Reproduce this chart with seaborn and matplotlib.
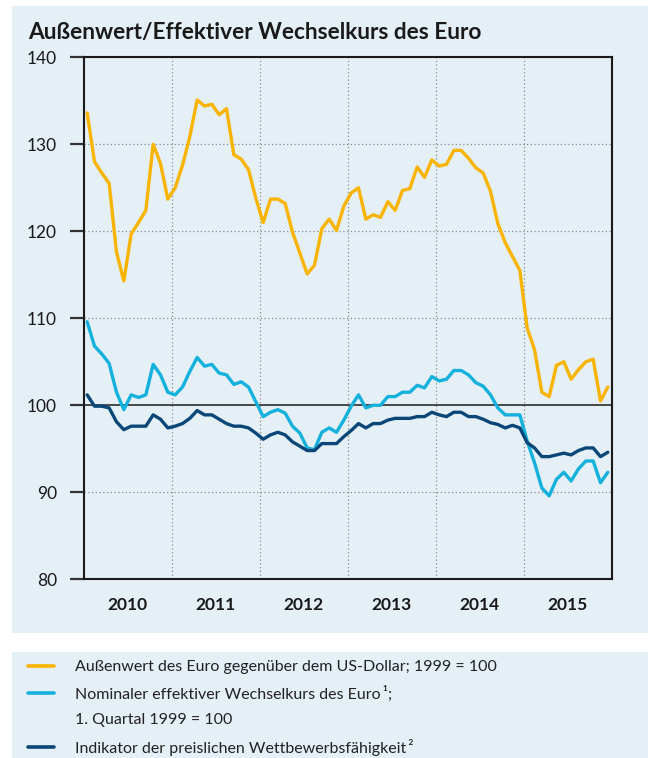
import matplotlib
matplotlib.use("Agg")
import numpy as np
import pandas as pd
import seaborn as sns
import matplotlib.pyplot as plt
from matplotlib.patches import Rectangle
from matplotlib.lines import Line2D

# ---------------- data (monthly, Jan 2010 - Dec 2015) ----------------
years = [2010, 2011, 2012, 2013, 2014, 2015]

usd = [133.6, 128.0, 126.7, 125.5, 117.6, 114.3, 119.7, 121.0, 122.4, 130.0, 127.8, 123.7,
       125.0, 127.6, 130.9, 135.1, 134.4, 134.6, 133.4, 134.1, 128.8, 128.3, 127.1, 123.8,
       121.0, 123.7, 123.7, 123.2, 119.9, 117.5, 115.1, 116.1, 120.3, 121.4, 120.1, 122.9,
       124.4, 125.0, 121.4, 121.9, 121.6, 123.4, 122.4, 124.7, 124.9, 127.4, 126.2, 128.2,
       127.5, 127.7, 129.3, 129.3, 128.4, 127.3, 126.7, 124.6, 120.9, 118.7, 117.1, 115.5,
       108.9, 106.4, 101.5, 101.0, 104.6, 105.0, 103.0, 104.1, 105.0, 105.3, 100.5, 102.1]

nominal = [109.6, 106.8, 105.9, 104.8, 101.5, 99.5, 101.2, 100.9, 101.2, 104.7, 103.5, 101.5,
           101.2, 102.1, 103.9, 105.5, 104.5, 104.7, 103.7, 103.5, 102.4, 102.7, 102.1, 100.4,
           98.7, 99.2, 99.5, 99.1, 97.6, 96.8, 95.1, 94.9, 96.9, 97.4, 96.9, 98.3,
           99.9, 101.2, 99.7, 100.0, 100.0, 101.0, 101.0, 101.5, 101.5, 102.3, 102.0, 103.3,
           102.8, 103.0, 104.0, 104.0, 103.5, 102.6, 102.2, 101.2, 99.7, 98.9, 98.9, 98.9,
           95.9, 93.4, 90.5, 89.6, 91.5, 92.3, 91.3, 92.7, 93.6, 93.6, 91.1, 92.3]

competitiveness = [101.2, 99.9, 99.9, 99.7, 98.1, 97.2, 97.6, 97.6, 97.6, 98.9, 98.4, 97.4,
                   97.6, 97.9, 98.5, 99.4, 98.9, 98.9, 98.4, 97.9, 97.6, 97.6, 97.4, 96.8,
                   96.1, 96.6, 96.9, 96.6, 95.8, 95.3, 94.8, 94.8, 95.6, 95.6, 95.6, 96.4,
                   97.1, 97.9, 97.4, 97.9, 97.9, 98.3, 98.5, 98.5, 98.5, 98.7, 98.7, 99.2,
                   98.9, 98.7, 99.2, 99.2, 98.7, 98.7, 98.4, 98.0, 97.8, 97.4, 97.7, 97.4,
                   95.7, 95.1, 94.1, 94.1, 94.3, 94.5, 94.3, 94.8, 95.1, 95.1, 94.1, 94.6]

series_names = ["Außenwert des Euro gegenüber dem US-Dollar; 1999 = 100",
                "Nominaler effektiver Wechselkurs des Euro\u2009\u00b9;",
                "Indikator der preislichen Wettbewerbsfähigkeit\u2009\u00b2"]
colors = ["#F8B400", "#14B1DC", "#0A4677"]
title = "Außenwert/Effektiver Wechselkurs des Euro"

# decimal-year position of each monthly observation (mid-month)
dates = pd.date_range("2010-01-01", periods=len(usd), freq="MS")
xpos = dates.year + (dates.month - 0.5) / 12.0

df = pd.DataFrame({
    "x": np.tile(xpos, 3),
    "value": usd + nominal + competitiveness,
    "series": np.repeat(series_names, len(usd)),
})

# ---------------- figure ----------------
sns.set_theme(style="white")
plt.rcParams["font.family"] = ["Lato", "DejaVu Sans"]

W, H = 648, 758
bg = "#E4EFF6"
fig = plt.figure(figsize=(W / 100, H / 100), dpi=100, facecolor="white")

# background panels
fig.patches.append(Rectangle((12 / W, 1 - 633 / H), (W - 12) / W, (633 - 6) / H,
                             transform=fig.transFigure, facecolor=bg, edgecolor="none", zorder=-10))
fig.patches.append(Rectangle((12 / W, 0), (W - 12) / W, (H - 652) / H,
                             transform=fig.transFigure, facecolor=bg, edgecolor="none", zorder=-10))

fig.text(28 / W, 1 - 33 / H, title, fontsize=16.3, fontweight="bold", color="#1a1a1a",
         ha="left", va="center")

ax = fig.add_axes([83.5 / W, 1 - 579.3 / H, 528 / W, 522 / H])
ax.set_facecolor(bg)

# grid
for yv in [90, 110, 120, 130]:
    ax.axhline(yv, color="#8a8a8a", lw=0.9, ls=(0, (1, 2.0)), zorder=1)
for xv in years[1:]:
    ax.axvline(xv, color="#8a8a8a", lw=0.9, ls=(0, (1, 2.0)), zorder=1)
ax.axhline(100, color="#1a1a1a", lw=1.1, zorder=2)

sns.lineplot(data=df, x="x", y="value", hue="series", hue_order=series_names,
             palette=colors, linewidth=2.4, legend=False, ax=ax, zorder=3)

ax.set_xlim(2010, 2016)
ax.set_ylim(80, 140)
ax.set_yticks(range(80, 141, 10))
ax.set_xticks(years[1:])
ax.set_xticklabels([])
ax.set_xticks([y + 0.5 for y in years], minor=True)
ax.set_xticklabels([str(y) for y in years], minor=True, fontweight="bold", fontsize=12.5,
                   color="#1a1a1a")
ax.tick_params(axis="x", which="both", length=0, pad=13)
ax.tick_params(axis="y", length=10, width=1.6, color="#333333", labelsize=12.5,
               labelcolor="#1a1a1a", pad=9, left=True)
ax.set_xlabel("")
ax.set_ylabel("")
for s in ax.spines.values():
    s.set_visible(True)
    s.set_color("#1a1a1a")
    s.set_linewidth(1.5)

# legend
handles = [Line2D([], [], color=colors[0], lw=2.6),
           Line2D([], [], color=colors[1], lw=2.6),
           Line2D([], [], color="none", lw=2.6),
           Line2D([], [], color=colors[2], lw=2.6)]
labels = [series_names[0], series_names[1], "1. Quartal 1999 = 100", series_names[2]]
fig.legend(handles, labels, loc="upper left", bbox_to_anchor=(28 / W, 1 - 660 / H),
           frameon=False, fontsize=11.5, handlelength=1.65, handletextpad=1.3,
           labelspacing=0.72, borderpad=0, borderaxespad=0, labelcolor="#222222")

fig.savefig("out.png", dpi=100, facecolor="white")
